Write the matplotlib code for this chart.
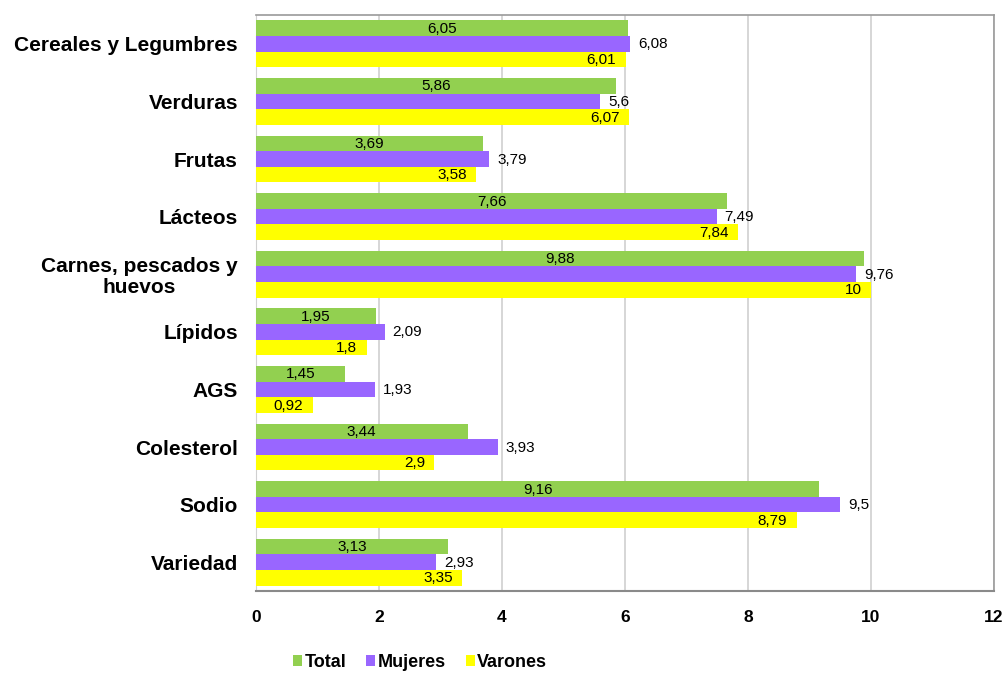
import matplotlib.pyplot as plt
import numpy as np

plt.rcParams['font.family'] = ['Liberation Sans', 'DejaVu Sans']

categories = ['Cereales y Legumbres', 'Verduras', 'Frutas', 'Lácteos',
              'Carnes, pescados y\nhuevos', 'Lípidos', 'AGS', 'Colesterol',
              'Sodio', 'Variedad']
total = [6.05, 5.86, 3.69, 7.66, 9.88, 1.95, 1.45, 3.44, 9.16, 3.13]
mujeres = [6.08, 5.6, 3.79, 7.49, 9.76, 2.09, 1.93, 3.93, 9.5, 2.93]
varones = [6.01, 6.07, 3.58, 7.84, 10, 1.8, 0.92, 2.9, 8.79, 3.35]
series_names = ['Total', 'Mujeres', 'Varones']
colors = ['#92D050', '#9966FF', '#FFFF00']


def fmt(v):
    # decimal comma, no trailing zeros
    return ('%g' % v).replace('.', ',')


fig = plt.figure(figsize=(10.07, 6.73), dpi=100)
ax = fig.add_axes([0.2542, 0.1218, 0.7328, 0.8559])

y = np.arange(len(categories))
h = 0.27
for i, (vals, col, name) in enumerate(zip([total, mujeres, varones], colors, series_names)):
    pos = y + (i - 1) * h
    bars = ax.barh(pos, vals, height=h, color=col, label=name, zorder=3)
    for b, v in zip(bars, vals):
        yc = b.get_y() + b.get_height() / 2
        if i == 0:
            # Total: label centred on the bar
            ax.text(v / 2, yc + 0.01, fmt(v), ha='center', va='center', fontsize=11, zorder=4)
        elif i == 1:
            # Mujeres: label just past the end
            ax.text(v + 0.13, yc + 0.01, fmt(v), ha='left', va='center', fontsize=11, zorder=4)
        else:
            # Varones: label inside the end
            ax.text(v - 0.15, yc + 0.01, fmt(v), ha='right', va='center', fontsize=11, zorder=4)

ax.set_ylim(len(categories) - 0.5, -0.5)
ax.set_xlim(0, 12)
ax.set_xticks(range(0, 13, 2))
ax.set_yticks(y)
ax.set_yticklabels(categories, fontsize=15, fontweight='bold', multialignment='center',
                   linespacing=1.15)
ax.tick_params(axis='x', labelsize=12.5, pad=14, length=0)
ax.tick_params(axis='y', length=0, pad=13)
for lbl in ax.get_xticklabels():
    lbl.set_fontweight('bold')
ax.grid(axis='x', color='#cfcfcf', linewidth=1.2, zorder=0)

for side in ['top', 'right']:
    ax.spines[side].set_color('#9a9a9a')
    ax.spines[side].set_linewidth(1.2)
ax.spines['left'].set_color('#d0d0d0')
ax.spines['bottom'].set_color('#8a8a8a')
ax.spines['bottom'].set_linewidth(1.5)

leg = fig.legend(loc='center', bbox_to_anchor=(0.417, 0.016), ncol=3, frameon=False,
                 handlelength=0.5, handleheight=0.6, handletextpad=0.15, columnspacing=1.1,
                 prop={'size': 13, 'weight': 'bold'})

plt.savefig('out.png', dpi=100)
